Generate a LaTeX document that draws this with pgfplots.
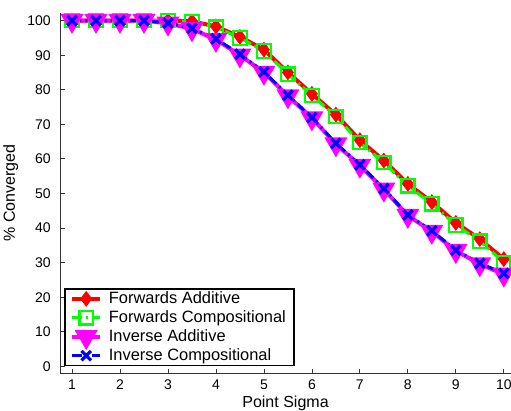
\documentclass[border=0pt]{standalone}
\usepackage{pgfplots}
\pgfplotsset{compat=1.18}
\usepackage{pgfplotstable}
\usepackage{fontspec}
\setmainfont{Liberation Sans}
\definecolor{mred}{RGB}{255,0,0}
\definecolor{mgreen}{RGB}{0,255,0}
\definecolor{mmag}{RGB}{255,0,255}
\definecolor{mblue}{RGB}{0,0,255}

% percent converged vs point sigma
\pgfplotstableread{
x    fa    fc    ia    ic
1    100   100   100   100
1.5  100   100   100   100
2    100   100   100   100
2.5  100   100   100   100
3    100   100   99.2  99.3
3.5  99.8  99.7  97.6  97.8
4    98.3  98.1  94.5  94.7
4.5  95.3  95.0  90.0  90.3
5    91.6  91.2  85.0  85.2
5.5  85.0  84.5  78.2  78.4
6    78.8  78.4  71.8  72.0
6.5  72.8  72.3  64.3  64.5
7    65.4  64.7  58.1  58.3
7.5  59.5  58.9  51.2  51.4
8    52.8  52.2  43.6  43.8
8.5  47.5  47.0  39.0  39.2
9    41.5  40.9  33.4  33.6
9.5  36.8  36.2  29.6  29.8
10   31.0  30.1  26.6  26.9
}\conv

\begin{document}
\begin{tikzpicture}
\begin{axis}[
    scale only axis, width=338pt, height=270pt,
    xmin=0.75, xmax=10.15, ymin=-2, ymax=102.2,
    axis lines=left, axis line style={-, black!80, line width=0.6pt},
    tick align=inside, major tick length=3.5pt,
    tick style={black!80, line width=0.6pt},
    xtick={1,...,10}, ytick={0,10,...,100},
    /pgf/number format/assume math mode=true,
    tick label style={font=\fontsize{10.5}{12}\selectfont},
    yticklabel style={xshift=-3.5pt},
    xticklabel style={yshift=-1.5pt},
    label style={font=\fontsize{12}{14}\selectfont},
    xlabel={Point Sigma}, ylabel={\% Converged},
    xlabel style={yshift=2pt},
    clip=false,
    legend cell align=left,
    legend image code/.code={
        \draw[mark repeat=2,mark phase=2] plot coordinates {(0cm,0cm) (0.37cm,0cm) (0.74cm,0cm)};},
    legend style={at={(rel axis cs:0.009,0.02)}, anchor=south west,
        draw=black, line width=1.1pt, font=\fontsize{12.3}{14}\selectfont,
        row sep=-0.2pt, inner xsep=4pt, inner ysep=0pt},
]
\addplot[mred, line width=3pt, mark=diamond*, mark size=3.5pt,
    mark options={solid, fill=mred}] table[x=x, y=fa] {\conv};
\addlegendentry{\hspace{3pt}Forwards Additive}
\addplot[mgreen, line width=2.25pt, dash pattern=on 7pt off 3pt on 1.5pt off 3pt,
    mark=square, mark size=5pt, mark options={solid, line width=1.6pt}] table[x=x, y=fc] {\conv};
\addlegendentry{\hspace{3pt}Forwards Compositional}
\addplot[mmag, line width=3pt, mark=triangle*, mark size=7pt,
    mark options={solid, rotate=180, fill=mmag}] table[x=x, y=ia] {\conv};
\addlegendentry{\hspace{3pt}Inverse Additive}
\addplot[mblue, line width=2.25pt, dash pattern=on 7pt off 3pt on 1.5pt off 3pt,
    mark=x, mark size=5pt, mark options={solid, line width=2.4pt}] table[x=x, y=ic] {\conv};
\addlegendentry{\hspace{3pt}Inverse Compositional}
\end{axis}
\pgfresetboundingbox
\path[use as bounding box] ([xshift=-45pt,yshift=-27.75pt]current axis.south west)
    rectangle ([yshift=9.75pt]current axis.north east);
\end{tikzpicture}
\end{document}
